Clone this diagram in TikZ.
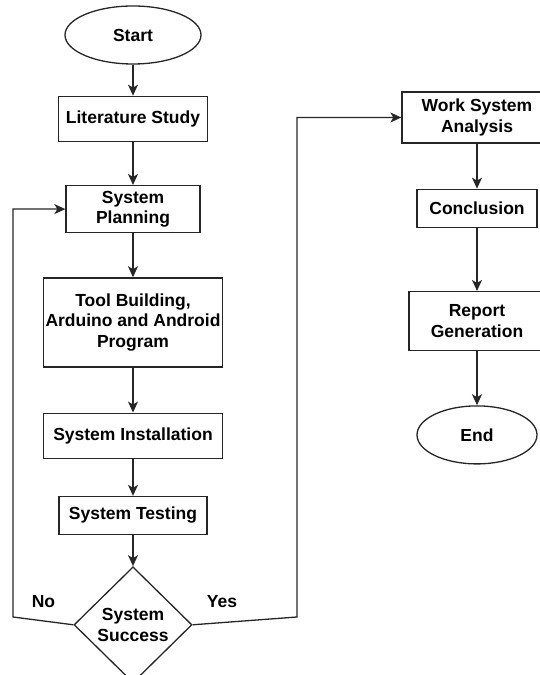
\documentclass[tikz,border=0pt]{standalone}
\usepackage{fontspec}
\setmainfont{Liberation Sans}
\usepackage{tikz}
\usetikzlibrary{positioning, shapes.geometric, arrows.meta}
\tikzstyle{Arrow} = [
    line width = 1.3pt,
    draw = black!85,
    -{Stealth[length=11pt, width=10pt, inset=3pt]}
]

\begin{document}
\begin{tikzpicture}[
x = 1pt, y = 1pt,
every node/.style = {
    font = \fontsize{17.5}{20.5}\selectfont\bfseries,
    align = center,
    inner sep = 0pt
    },
block/.style = {
    rectangle,
    draw = black!85,
    line width = 1.3pt
    },
terminal/.style = {
    ellipse,
    draw = black!85,
    line width = 1.3pt,
    minimum width = 120pt,
    minimum height = 58pt
    },
decision/.style = {
    diamond,
    draw = black!85,
    line width = 1.3pt,
    minimum width = 118pt,
    minimum height = 116pt
    }
]

\useasboundingbox (0,0) rectangle (540,675);
\clip (0,0) rectangle (540,675);

% left column
\node [terminal, minimum width = 136pt] (start) at (133, 640) {Start};
\node [block, below = 31pt of start, minimum width = 149pt, minimum height = 45pt] (litstudy) {Literature Study};
\node [block, below = 43pt of litstudy, minimum width = 134pt, minimum height = 47pt] (planning) {System\\Planning};
\node [block, below = 44pt of planning, minimum width = 179pt, minimum height = 89pt] (building) {Tool Building,\\Arduino and Android\\Program};
\node [block, below = 45pt of building, minimum width = 179pt, minimum height = 45pt] (install) {System Installation};
\node [block, below = 37pt of install, minimum width = 148pt, minimum height = 38pt] (testing) {System Testing};
\node [decision, below = 31pt of testing] (success) {System\\Success};

\node [above left = 17pt and 18pt of success.west] (no) {No};
\node [above right = 17pt and 14pt of success.east] (yes) {Yes};

% right column
\node [block, minimum width = 150pt, minimum height = 51pt] (analysis) at (477, 557.5) {Work System\\Analysis};
\node [block, below = 45pt of analysis, minimum width = 120pt, minimum height = 38pt] (conclusion) {Conclusion};
\node [block, below = 63pt of conclusion, minimum width = 136pt, minimum height = 59pt] (report) {Report\\Generation};
\node [terminal, below = 54pt of report] (end) {End};

\coordinate (noturn) at (13, 58);
\coordinate (yesturn) at (297, 58);

\draw [Arrow] (start) -- (litstudy);
\draw [Arrow] (litstudy) -- (planning);
\draw [Arrow] (planning) -- (building);
\draw [Arrow] (building) -- (install);
\draw [Arrow] (install) -- (testing);
\draw [Arrow] (testing) -- (success);

\draw [Arrow] (success.west) -- (noturn) |- (planning.west);
\draw [Arrow] (success.east) -- (yesturn) |- (analysis.west);

\draw [Arrow] (analysis) -- (conclusion);
\draw [Arrow] (conclusion) -- (report);
\draw [Arrow] (report) -- (end);

\end{tikzpicture}
\end{document}
